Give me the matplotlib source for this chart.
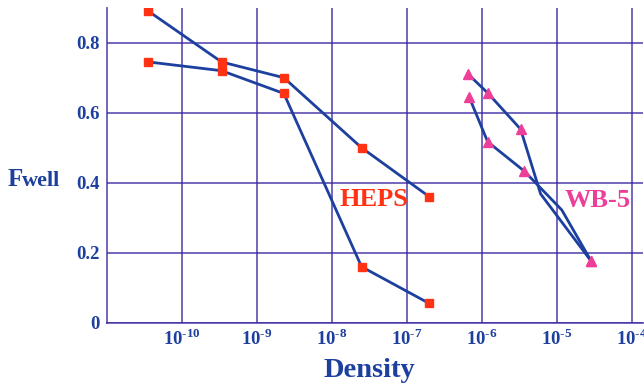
import numpy as np
import matplotlib
matplotlib.use("Agg")
import matplotlib.pyplot as plt
from matplotlib.ticker import FixedLocator, FixedFormatter

plt.rcParams['font.family'] = ['Liberation Serif', 'DejaVu Serif']
plt.rcParams['mathtext.fontset'] = 'custom'
plt.rcParams['mathtext.rm'] = 'Liberation Serif:bold'
plt.rcParams['mathtext.bf'] = 'Liberation Serif:bold'

# HEPS data
heps_x = [3.6e-11, 3.4e-10, 2.3e-9, 2.5e-8, 2.0e-7]
heps_upper = [0.89, 0.745, 0.70, 0.50, 0.36]
heps_lower = [0.745, 0.72, 0.655, 0.16, 0.055]

# WB-5 data (4th point is a bend with no marker)
wb_upper_x = [6.6e-7, 1.22e-6, 3.3e-6, 6.1e-6, 2.9e-5]
wb_upper_y = [0.71, 0.655, 0.553, 0.368, 0.175]
wb_lower_x = [6.8e-7, 1.2e-6, 3.7e-6, 1.17e-5, 2.9e-5]
wb_lower_y = [0.645, 0.517, 0.433, 0.322, 0.175]
wb_marked = [0, 1, 2, 4]

xticks = [1e-10, 1e-9, 1e-8, 1e-7, 1e-6, 1e-5, 1e-4]
xticklabels = [r'$10^{\text{-}10}$', r'$10^{\text{-}9}$', r'$10^{\text{-}8}$',
               r'$10^{\text{-}7}$', r'$10^{\text{-}6}$', r'$10^{\text{-}5}$',
               r'$10^{\text{-}4}$']
yticks = [0, 0.2, 0.4, 0.6, 0.8]
yticklabels = ['0', '0.2', '0.4', '0.6', '0.8']

navy = '#1d3f9e'
grid_c = '#3424a0'
red = '#ff3314'
pink = '#ee3f98'

fig = plt.figure(figsize=(6.44, 3.87), dpi=100)
ax = fig.add_axes([0.1657, 0.1661, 0.8328, 0.814])

ax.set_xscale('log')
ax.set_xlim(1e-11, 10 ** -3.849)
ax.set_ylim(0, 0.9)

ax.plot(heps_x, heps_upper, color=navy, lw=2, marker='s', ms=6,
        mfc=red, mec=red, zorder=3)
ax.plot(heps_x, heps_lower, color=navy, lw=2, marker='s', ms=6,
        mfc=red, mec=red, zorder=3)
ax.plot(wb_upper_x, wb_upper_y, color=navy, lw=2, marker='^', ms=6.5,
        mfc=pink, mec=pink, markevery=wb_marked, zorder=3)
ax.plot(wb_lower_x, wb_lower_y, color=navy, lw=2, marker='^', ms=6.5,
        mfc=pink, mec=pink, markevery=wb_marked, zorder=3)

ax.xaxis.set_major_locator(FixedLocator(xticks))
ax.xaxis.set_major_formatter(FixedFormatter(xticklabels))
ax.xaxis.set_minor_locator(FixedLocator([]))
ax.set_yticks(yticks)
ax.set_yticklabels(yticklabels)
ax.tick_params(length=0, labelsize=13.5, labelcolor=navy, pad=5)
ax.tick_params(axis='x', pad=4)
for lab in ax.get_yticklabels():
    lab.set_fontweight('bold')

ax.grid(True, color=grid_c, lw=1.3, alpha=0.75)
for s in ['top', 'right']:
    ax.spines[s].set_visible(False)
for s in ['left', 'bottom']:
    ax.spines[s].set_color(grid_c)
    ax.spines[s].set_linewidth(1.3)
    ax.spines[s].set_alpha(0.75)

ax.text(10 ** -7.89, 0.334, 'HEPS', color=red, fontsize=19, fontweight='bold')
ax.text(10 ** -4.889, 0.332, 'WB-5', color=pink, fontsize=19, fontweight='bold')

fig.text(0.012, 0.519, 'F', color=navy, fontsize=18, fontweight='bold')
fig.text(0.034, 0.519, 'well', color=navy, fontsize=16, fontweight='bold')
fig.text(0.573, 0.025, 'Density', color=navy, fontsize=20.5, fontweight='bold',
         ha='center')

fig.savefig('out.png', dpi=100)
